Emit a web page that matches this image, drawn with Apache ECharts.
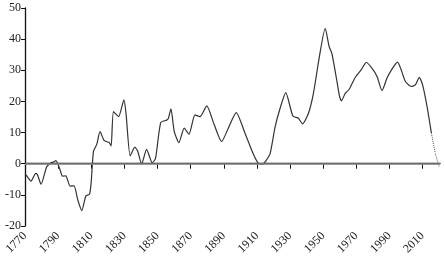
<!DOCTYPE html>
<html>
<head>
<meta charset="utf-8">
<script src="https://cdn.jsdelivr.net/npm/echarts@6/dist/echarts.min.js"></script>
<style>
html,body{margin:0;padding:0;background:#fff;}
#c{width:445px;height:264px;}
</style>
</head>
<body>
<div id="c"></div>
<script>
const years = [1770,1771.5,1773.6,1776.5,1777.5,1779.7,1783.1,1785.7,1787,1788.7,1791.2,1792.6,1794.6,1797.2,1799.6,1801.9,1804.3,1806.7,1808.9,1809.9,1811.3,1813.3,1815.3,1817.8,1820.8,1822,1823.4,1826.5,1829.7,1831,1833.5,1836.3,1838,1840.4,1843.4,1846.8,1848.8,1851.9,1855.5,1856.5,1858.1,1860.1,1862.9,1866.1,1869,1872.6,1875.6,1879.7,1884.3,1888.7,1892.7,1897.5,1902.8,1907.8,1910.9,1913.3,1915.5,1918,1921,1924,1927.4,1931.7,1935,1937.5,1941.1,1944.1,1947.7,1951.2,1953.6,1955.2,1957.8,1959.8,1961,1963.3,1965.7,1969.3,1972.9,1976,1979.4,1982.5,1985.5,1988.5,1991.9,1994.9,1997.1,1999.6,2003.2,2005.6,2008,2010,2012.7,2015.3];
const values = [-3.3,-4.2,-5.6,-3.1,-3.5,-6.6,-1.0,0.3,0.5,1.0,-2.0,-4.0,-3.9,-7.2,-7.1,-11.7,-15.1,-10.4,-9.8,-6.3,3.9,6.2,10.3,7.4,6.8,5.7,16.7,15.1,20.5,16,2.5,5.3,4.1,-0.1,4.6,0.3,1.7,13.2,14.0,14.5,17.6,10.3,6.8,11.4,9.5,15.7,15.1,18.6,12.4,7.1,11.4,16.4,9.8,3.1,0.1,-0.2,1.0,3.3,11.9,17.8,22.8,15.3,14.6,12.8,16.2,22.6,34.4,43.5,37.6,35.5,28.0,21.8,20.2,22.6,23.9,27.7,30.1,32.5,30.7,28.0,23.5,27.5,30.7,32.6,30.1,26.4,24.8,25.3,27.7,25.3,18.3,9.8];
const projYears = [2015.3,2017.7,2020];
const projValues = [9.8,3.3,-1.0];
const xTicks = [1770,1790,1810,1830,1850,1870,1890,1910,1930,1950,1970,1990,2010];
const yTicks = [-20,-10,0,10,20,30,40,50];

const zip = (a,b)=>a.map((v,i)=>[v,b[i]]);
const font = 'Liberation Serif';
const chart = echarts.init(document.getElementById('c'));
chart.setOption({
  animation:false,
  grid:{left:25,right:5,top:8,bottom:38,containLabel:false,outerBoundsMode:'none'},
  xAxis:{type:'value',min:1770,max:2020.5,interval:20,
    axisLine:{lineStyle:{color:'#111',width:1.3}},
    axisTick:{show:true,length:5,customValues:xTicks,lineStyle:{color:'#111'}},
    axisLabel:{rotate:45,fontFamily:font,fontSize:12,color:'#222',margin:8,
      showMaxLabel:false,hideOverlap:false,
      formatter:v=>xTicks.indexOf(v)>=0?String(v):''},
    splitLine:{show:false}},
  yAxis:{type:'value',min:-20,max:50,interval:10,
    axisLine:{show:true,lineStyle:{color:'#111',width:1.3}},
    axisTick:{show:true,length:4,lineStyle:{color:'#111'}},
    axisLabel:{fontFamily:font,fontSize:12,color:'#222',margin:4,
      formatter:v=>yTicks.indexOf(v)>=0?String(v):''},
    splitLine:{show:false}},
  series:[
    {type:'line',data:zip(years,values),showSymbol:false,smooth:0.2,
     lineStyle:{color:'#333',width:1.2},
     markLine:{silent:true,symbol:'none',label:{show:false},
       lineStyle:{color:'#8c8c8c',width:1.5,type:'solid'},data:[{yAxis:0}]}},
    {type:'line',data:zip(projYears,projValues),showSymbol:false,smooth:0.2,
     lineStyle:{color:'#555',width:1,type:'dotted'}}
  ]
});
</script>
</body>
</html>
